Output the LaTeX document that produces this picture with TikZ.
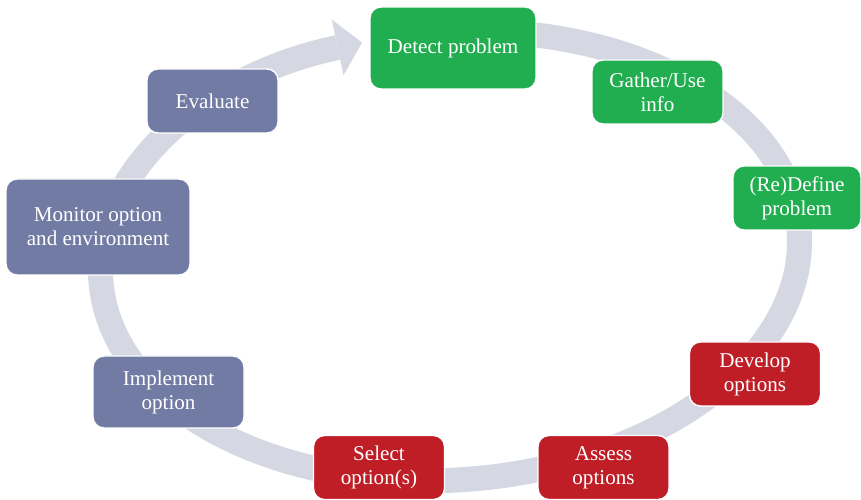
\documentclass[tikz,border=0pt]{standalone}
\usepackage{fontspec}
\setmainfont{Liberation Serif}
\usepackage{tikz}
\usetikzlibrary{arrows.meta,positioning}
\definecolor{stepgreen}{RGB}{33,174,80}
\definecolor{stepred}{RGB}{191,30,39}
\definecolor{stepslate}{RGB}{114,123,164}
\definecolor{ringgray}{RGB}{213,216,226}
\tikzset{stage/.style={rectangle, rounded corners=0.22cm, draw=white, line width=0.8pt,
		text=white, align=center, inner sep=0pt, font=\fontsize{12}{13.6}\selectfont}}
\tikzset{findbox/.style={stage, fill=stepgreen},
	optbox/.style={stage, fill=stepred},
	actbox/.style={stage, fill=stepslate},
	small/.style={minimum width=2.62cm, minimum height=1.28cm}}

\begin{document}
\begin{tikzpicture}
			\useasboundingbox (0,0) rectangle (17.22,10);
			%cycle ring
			\begin{scope}[shift={(9,4.88)}, rotate=4]
				\draw[ringgray, line width=0.5cm, -{Triangle[length=0.5cm, width=1.14cm, line width=0pt]}]
					(95:7cm and 4.48cm) arc[start angle=95, end angle=-258, x radius=7cm, y radius=4.48cm];
			\end{scope}
			\node (Det) [findbox, minimum width=3.32cm, minimum height=1.64cm] at (9.06,9.04) {Detect problem};
			\node (Gat) [findbox, small] 		at (13.15,8.16) 	{Gather/Use\\info};
			\node (Def) [findbox, small, minimum width=2.56cm] at (15.94,6.04) {(Re)Define\\problem};
			\node (Dev) [optbox, small] 		at (15.10,2.52) 	{Develop\\options};
			\node (Ass) [optbox, small] 		at (12.07,0.65) 	{Assess\\options};
			\node (Sel) [optbox, small] 		at (7.58,0.65) 		{Select\\option(s)};
			\node (Imp) [actbox, minimum width=3.02cm, minimum height=1.44cm] at (3.37,2.16) {Implement\\option};
			\node (Mon) [actbox, minimum width=3.68cm, minimum height=1.92cm] at (1.96,5.46) {Monitor option\\and environment};
			\node (Eva) [actbox, small] 		at (4.25,7.98) 		{Evaluate};
\end{tikzpicture}
\end{document}
